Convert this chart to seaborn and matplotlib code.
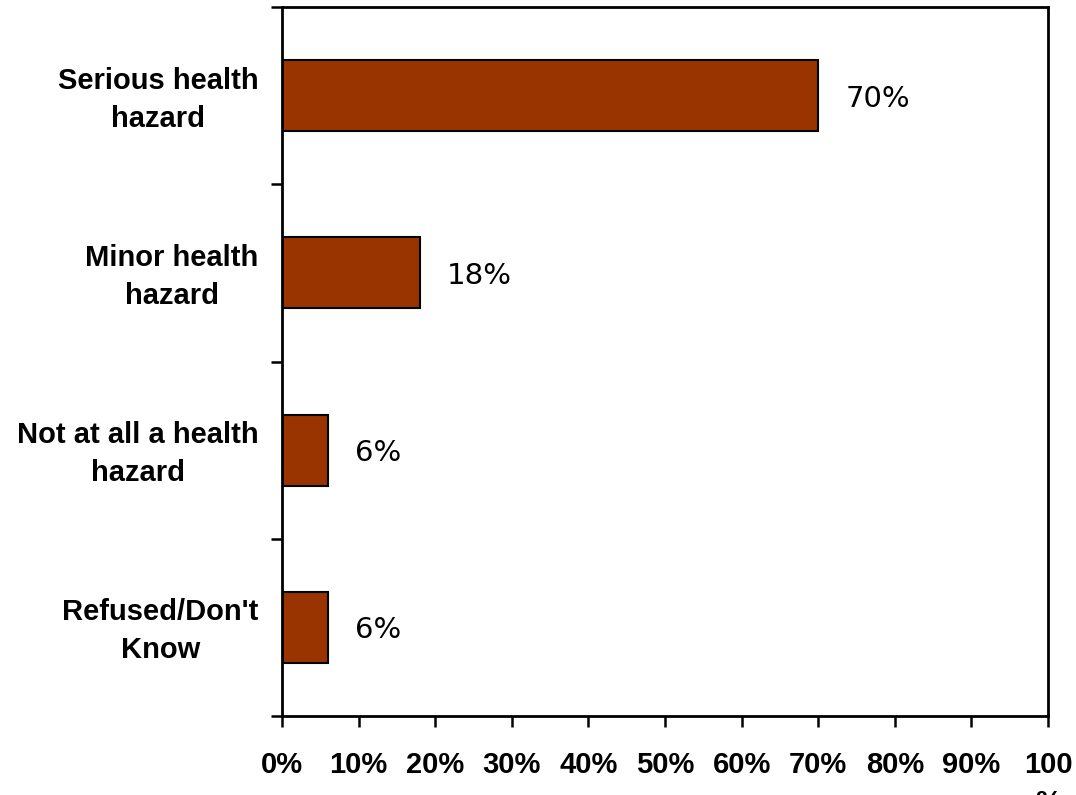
import matplotlib
matplotlib.use("Agg")
import matplotlib.pyplot as plt
import matplotlib.transforms as mtransforms
import seaborn as sns
import pandas as pd

categories = ["Serious health hazard", "Minor health hazard",
              "Not at all a health hazard", "Refused/Don't Know"]
category_labels = ["Serious health\nhazard", "Minor health\nhazard",
                   "Not at all a health\nhazard", "Refused/Don't\nKnow"]
values = [70, 18, 6, 6]
x_ticks = [0, 10, 20, 30, 40, 50, 60, 70, 80, 90, 100]
x_tick_labels = ["0%", "10%", "20%", "30%", "40%", "50%", "60%", "70%",
                 "80%", "90%", "100\n%"]

sns.set_theme(style="white")
plt.rcParams['font.family'] = ['Liberation Sans', 'DejaVu Sans']
plt.rcParams['text.color'] = 'black'
plt.rcParams['xtick.color'] = 'black'
plt.rcParams['ytick.color'] = 'black'

df = pd.DataFrame({"category": categories, "value": values})

fig = plt.figure(figsize=(10.76, 7.95), dpi=100)
ax = fig.add_axes([282 / 1076, 1 - 716 / 795, (1048 - 282) / 1076, (716 - 7) / 795])

sns.barplot(data=df, x="value", y="category", orient="h", color="#993300",
            saturation=1, edgecolor="black", linewidth=1.5, width=0.4, ax=ax)

ax.set_xlim(0, 100)
ax.set_ylim(3.5, -0.5)
ax.set_xlabel("")
ax.set_ylabel("")

ax.set_xticks(x_ticks)
ax.set_xticklabels(x_tick_labels, fontsize=21, fontweight="bold",
                   color="black", linespacing=1.45)
ax.tick_params(axis="x", direction="out", length=8, width=1.8, pad=17.5,
               color="black", labelcolor="black", bottom=True)

ax.set_yticks(range(len(categories)))
ax.set_yticklabels(category_labels, fontsize=21, fontweight="bold",
                   multialignment="center", color="black", linespacing=1.45)
ax.tick_params(axis="y", which="major", length=0, pad=17, labelcolor="black")
ax.set_yticks([-0.5, 0.5, 1.5, 2.5, 3.5], minor=True)
ax.tick_params(axis="y", which="minor", direction="out", length=8, width=1.8,
               color="black", left=True)

shift_up = mtransforms.ScaledTranslation(0, 4 / 100, fig.dpi_scale_trans)
for lbl in ax.get_yticklabels():
    lbl.set_transform(lbl.get_transform() + shift_up)

for s in ax.spines.values():
    s.set_visible(True)
    s.set_color("black")
    s.set_linewidth(2.0)

for i, v in enumerate(values):
    ax.annotate(f"{v}%", xy=(v, i), xytext=(19.5, 0), textcoords="offset points",
                ha="left", va="center_baseline", fontsize=21,
                family="DejaVu Sans", color="black")

fig.savefig("out.png", dpi=100)
